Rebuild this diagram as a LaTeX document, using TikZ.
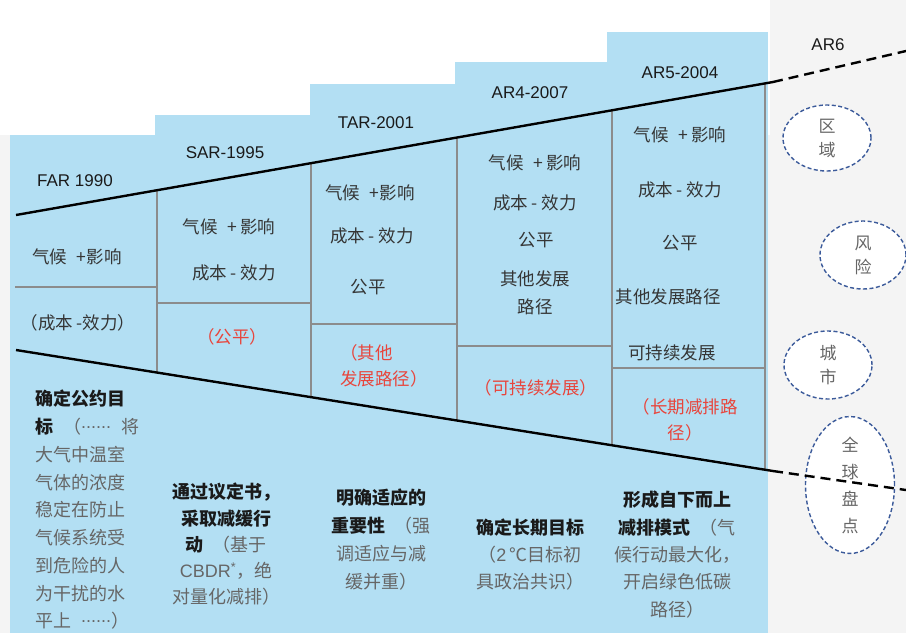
\documentclass[tikz,border=0pt]{standalone}
\usepackage{fontspec}
\setmainfont{Noto Sans CJK SC}
\newfontfamily\arialf{Liberation Sans}
\usetikzlibrary{calc,shapes.geometric}
\definecolor{bgc}{HTML}{F4F4F4}
\definecolor{bluec}{HTML}{B3DFF3}
\definecolor{redc}{HTML}{E8453C}
\definecolor{txt}{HTML}{353535}
\definecolor{soft}{HTML}{666666}
\definecolor{strong}{HTML}{1A1A1A}
\definecolor{gridc}{HTML}{8C8C8C}
\definecolor{ellc}{HTML}{3B5A9A}
\newcommand{\gapp}{\hspace{0.55em}}
\newcommand{\middots}{\raisebox{5.5pt}{\arialf......}}
\begin{document}
\begin{tikzpicture}[x=1pt,y=-1pt,
  col/.style={fill=bluec,draw=none},
  rule/.style={gridc,line width=1.1pt},
  axis/.style={black,line width=2.4pt},
  axisdash/.style={black,line width=2.4pt,dash pattern=on 10pt off 6pt},
  year/.style={inner sep=0pt,font=\arialf\fontsize{17}{20}\selectfont,text=strong},
  cell/.style={inner sep=0pt,font=\fontsize{17.5}{28}\selectfont,text=txt},
  redt/.style={inner sep=0pt,font=\fontsize{17.5}{26.5}\selectfont,text=redc},
  body/.style={inner sep=0pt,text=soft},
  oval/.style={ellipse,draw=ellc,dash pattern=on 4pt off 2.5pt,line width=1.4pt,fill=white,inner sep=0pt,align=center,text=soft}]
\useasboundingbox (0,0) rectangle (906,633);
\fill[bgc] (0,0) rectangle (906,633);
\fill[white] (0,0) rectangle (770,135);
% blue columns
\fill[col] (10,135) rectangle (155,633);
\fill[col] (155,115) rectangle (310,633);
\fill[col] (310,84) rectangle (455,633);
\fill[col] (455,62) rectangle (607,633);
\fill[col] (607,32) rectangle (768,633);
% axis coordinates
\coordinate (u0) at (16,215);
\coordinate (u1) at (773,82);
\coordinate (u2) at (906,51);
\coordinate (l0) at (16,350);
\coordinate (l1) at (773,471);
\coordinate (l2) at (906,490);
% cell rules
\foreach \t in {0.18626,0.3897,0.58256,0.78732,0.98943}
  \draw[rule] ($(u0)!\t!(u1)$) -- ($(l0)!\t!(l1)$);
\draw[rule] (15,287) -- (157,287);
\draw[rule] (157,303) -- (311,303);
\draw[rule] (311,324) -- (457,324);
\draw[rule] (457,346) -- (612,346);
\draw[rule] (612,368) -- (765,368);
% ovals
\node[oval,minimum width=88pt,minimum height=66pt,font=\fontsize{17}{24}\selectfont] (e1) at (827,138) {区\\域};
\node[oval,minimum width=86pt,minimum height=68pt,font=\fontsize{17}{24}\selectfont] (e2) at (863,255) {风\\险};
\node[oval,minimum width=88pt,minimum height=68pt,font=\fontsize{17}{24}\selectfont] (e3) at (828,365) {城\\市};
\node[oval,minimum width=89pt,minimum height=133pt,font=\fontsize{17}{27}\selectfont] (e4) at (850,485) {全\\球\\盘\\点};
% axes
\draw[axis] (u0) -- (u1);
\draw[axisdash] (u1) -- (u2);
\draw[axis] (l0) -- (l1);
\draw[axisdash] (l1) -- (l2);
% year labels
\node[year] (far) at (75,181) {FAR 1990};
\node[year] (sar) at (225,153) {SAR-1995};
\node[year] (tar) at (376,123) {TAR-2001};
\node[year] (ar4) at (530,93) {AR4-2007};
\node[year] (ar5) at (680,73) {AR5-2004};
\node[year] (ar6) at (828,45) {AR6};
% column 1
\node[cell] (c1a) at (77,257) {气候\gapp+影响};
\node[cell] (c1b) at (78,323) {（成本 -效力）};
% column 2
\node[cell] (c2a) at (229,227) {气候\gapp+\,影响};
\node[cell] (c2b) at (234,273) {成本 - 效力};
\node[redt] (c2c) at (232,337) {（公平）};
% column 3
\node[cell] (c3a) at (370,193) {气候\gapp+影响};
\node[cell] (c3b) at (372,236) {成本 - 效力};
\node[cell] (c3c) at (368,287) {公平};
\node[redt,align=left,anchor=north west] (c3d) at (340,344) {（其他\\发展路径）};
% column 4
\node[cell] (c4a) at (535,163) {气候\gapp+\,影响};
\node[cell] (c4b) at (535,203) {成本 - 效力};
\node[cell] (c4c) at (536,240) {公平};
\node[cell,align=center,anchor=north] (c4d) at (535,271) {其他发展\\路径};
\node[redt] (c4e) at (536,388) {（可持续发展）};
% column 5
\node[cell] (c5a) at (680,135) {气候\gapp+\,影响};
\node[cell] (c5b) at (680,190) {成本 - 效力};
\node[cell] (c5c) at (680,243) {公平};
\node[cell] (c5d) at (668,297) {其他发展路径};
\node[cell] (c5e) at (672,353) {可持续发展};
\node[redt,align=center,anchor=north] (c5f) at (685,398) {（长期减排路\\径）};
% bottom texts
\node[body,align=left,anchor=north west,font=\fontsize{18}{27.75}\selectfont] (b1) at (35,390)
  {\textcolor{strong}{\bfseries 确定公约目}\\
   \textcolor{strong}{\bfseries 标}\gapp（\middots\gapp 将\\
   大气中温室\\气体的浓度\\稳定在防止\\气候系统受\\到危险的人\\为干扰的水\\平上\gapp\middots）};
\node[body,align=center,anchor=north,font=\fontsize{18}{26.2}\selectfont] (b2) at (226,483)
  {\textcolor{strong}{\bfseries 通过议定书，}\\
   \textcolor{strong}{\bfseries 采取减缓行}\\
   \textcolor{strong}{\bfseries 动}\gapp（基于\\
   {\arialf CBDR\textsuperscript{*}}，绝\\
   对量化减排）};
\node[body,align=center,anchor=north,font=\fontsize{18}{28}\selectfont] (b3) at (381,489)
  {\textcolor{strong}{\bfseries 明确适应的}\\
   \textcolor{strong}{\bfseries 重要性}\gapp（强\\
   调适应与减\\
   缓并重）};
\node[body,align=center,anchor=north,font=\fontsize{18}{27}\selectfont] (b4) at (530,519)
  {\textcolor{strong}{\bfseries 确定长期目标}\\
   （{\arialf 2}\,℃目标初\\
   具政治共识）};
\node[body,align=center,anchor=north,font=\fontsize{18}{27.3}\selectfont] (b5) at (677,491)
  {\textcolor{strong}{\bfseries 形成自下而上}\\
   \textcolor{strong}{\bfseries 减排模式}\gapp（气\\
   候行动最大化，\\
   开启绿色低碳\\
   路径）};
\end{tikzpicture}
\end{document}
